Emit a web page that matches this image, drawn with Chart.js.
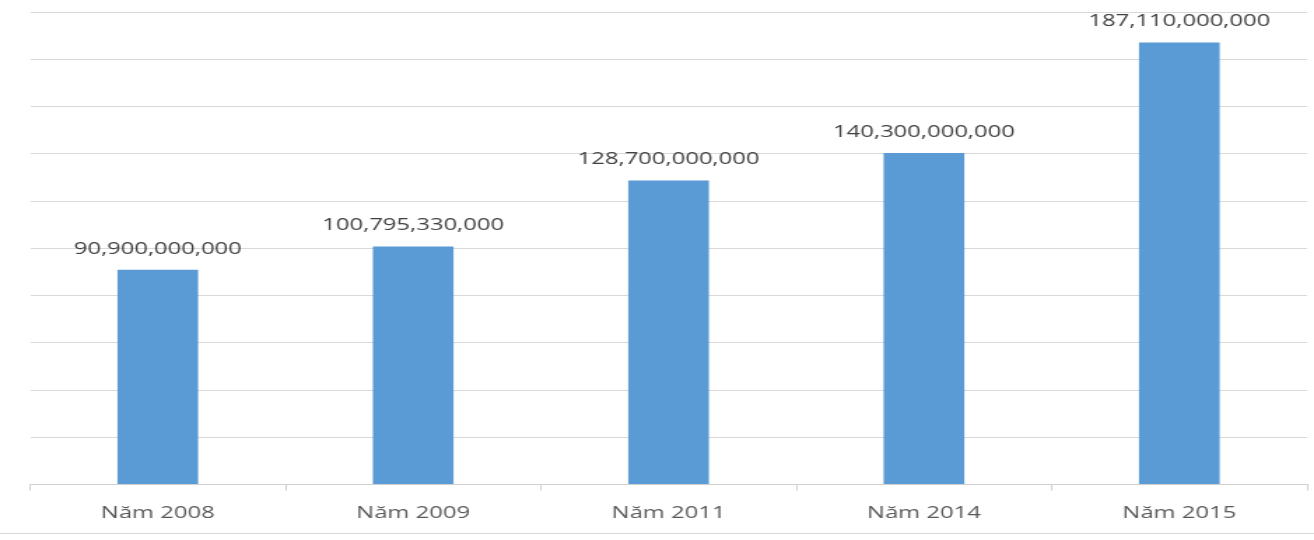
<!DOCTYPE html>
<html>
<head>
<meta charset="utf-8">
<script src="https://cdn.jsdelivr.net/npm/chart.js@4.4.0/dist/chart.umd.min.js"></script>
<style>
  html, body { margin: 0; padding: 0; background: #fff; overflow: hidden; }
  #frame { width: 1314px; height: 533px; border-bottom: 1px solid #d9d9d9; overflow: hidden; }
  /* the source picture is stretched sideways, so the chart is drawn narrow and widened */
  #wrap { width: 939px; height: 535px; transform: scaleX(1.3994); transform-origin: 0 0; }
</style>
</head>
<body>
<div id="frame"><div id="wrap"><canvas id="revenueChart"></canvas></div></div>
<script>
const categories = ['Năm 2008', 'Năm 2009', 'Năm 2011', 'Năm 2014', 'Năm 2015'];
const values = [90900000000, 100795330000, 128700000000, 140300000000, 187110000000];
const yMax = 200000000000;
const yStep = 20000000000;

// value labels above each bar
const barLabels = {
  id: 'barLabels',
  afterDatasetsDraw(chart) {
    const ctx = chart.ctx;
    const meta = chart.getDatasetMeta(0);
    ctx.save();
    ctx.font = '17px "Open Sans"';
    ctx.fillStyle = '#404040';
    ctx.textAlign = 'center';
    ctx.textBaseline = 'alphabetic';
    meta.data.forEach((bar, i) => {
      ctx.fillText(values[i].toLocaleString('en-US'), bar.x, bar.y - 16);
    });
    ctx.restore();
  }
};

document.addEventListener('DOMContentLoaded', function() {
  const ctx = document.getElementById('revenueChart').getContext('2d');
  new Chart(ctx, {
    type: 'bar',
    data: {
      labels: categories,
      datasets: [{
        data: values,
        backgroundColor: '#5b9bd5',
        barPercentage: 0.316,
        categoryPercentage: 1
      }]
    },
    options: {
      responsive: true,
      maintainAspectRatio: false,
      animation: false,
      layout: { padding: { left: 21.5, right: 5, top: 12, bottom: 0 } },
      plugins: {
        legend: { display: false },
        tooltip: { enabled: false }
      },
      scales: {
        x: {
          grid: { offset: true, drawOnChartArea: false, drawTicks: true, tickLength: 6, color: '#d0d0d0' },
          border: { display: true, color: '#d0d0d0' },
          ticks: { color: '#595959', font: { family: 'Open Sans', size: 17 }, padding: 12 }
        },
        y: {
          min: 0,
          max: yMax,
          ticks: { display: false, stepSize: yStep },
          grid: { color: '#d9d9d9', drawTicks: false },
          border: { display: false }
        }
      }
    },
    plugins: [barLabels]
  });
});
</script>
</body>
</html>
